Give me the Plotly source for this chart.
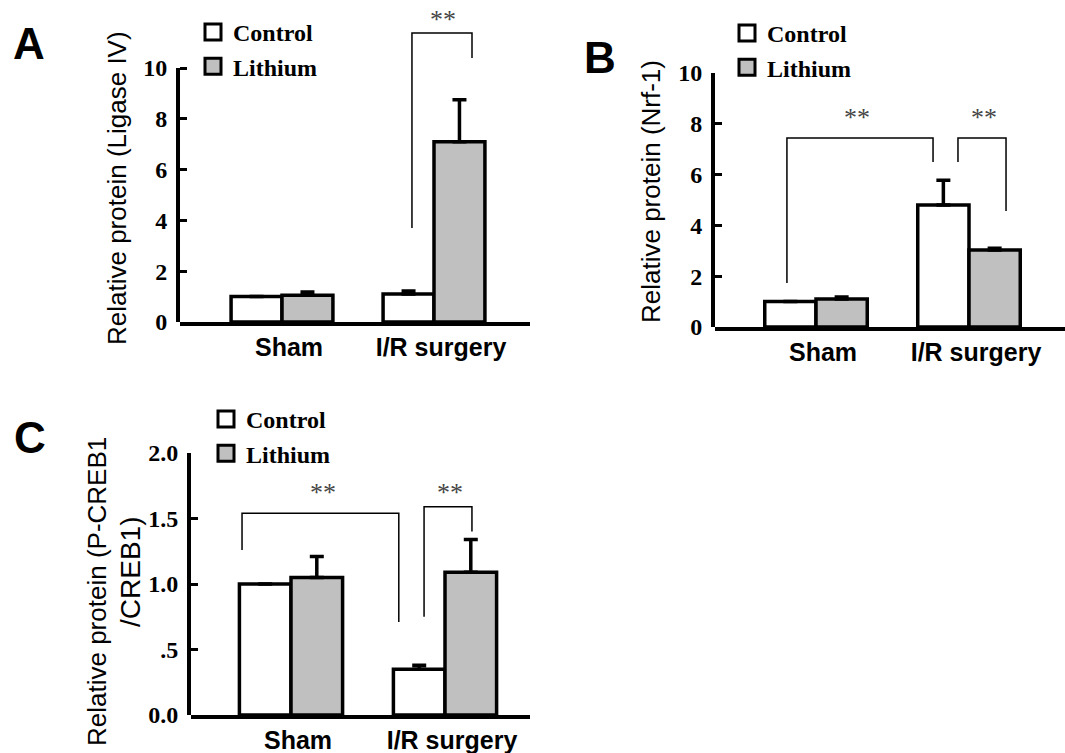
import plotly.graph_objects as go

# ---------------- data ----------------
categories = ["Sham", "I/R surgery"]
series_names = ["Control", "Lithium"]

a_control = [1.0, 1.1]
a_control_err = [None, 0.12]
a_lithium = [1.05, 7.1]
a_lithium_err = [0.13, 1.65]

b_control = [1.0, 4.8]
b_control_err = [None, 0.98]
b_lithium = [1.1, 3.03]
b_lithium_err = [0.08, 0.07]

c_control = [1.0, 0.35]
c_control_err = [None, 0.03]
c_lithium = [1.05, 1.09]
c_lithium_err = [0.16, 0.25]

a_ticks = [0, 2, 4, 6, 8, 10]
a_ticktext = ["0", "2", "4", "6", "8", "10"]
b_ticks = [0, 2, 4, 6, 8, 10]
b_ticktext = ["0", "2", "4", "6", "8", "10"]
c_ticks = [0, 0.5, 1.0, 1.5, 2.0]
c_ticktext = ["0.0", ".5", "1.0", "1.5", "2.0"]

# significance brackets: (x_left, x_right, y_left_end, y_top, y_right_end)
a_brackets = [(0.855, 1.25, 3.7, 11.38, 10.39)]
b_brackets = [(-0.19, 0.765, 1.73, 7.44, 6.5), (0.928, 1.242, 6.5, 7.44, 4.57)]
c_brackets = [(-0.318, 0.70, 1.26, 1.54, 0.71), (0.864, 1.175, 0.75, 1.59, 1.40)]
# star labels: (x, y)
a_stars = [(1.06, 11.9)]
b_stars = [(0.268, 8.23), (1.098, 8.23)]
c_stars = [(0.208, 1.70), (1.03, 1.70)]

y_titles = ["Relative protein (Ligase IV)", "Relative protein (Nrf-1)",
            "Relative protein (P-CREB1", "/CREB1)"]
panel_letters = ["A", "B", "C"]

# ---------------- layout helpers ----------------
W, H = 1065, 753


def fx(px):
    return px / W


def fy(py):
    return 1 - py / H


CONTROL_COLOR = "#ffffff"
LITHIUM_COLOR = "#c0c0c0"
SERIF = "Liberation Serif"
SANS = "Liberation Sans"

panels = [
    dict(ctrl=a_control, ctrl_err=a_control_err, lith=a_lithium, lith_err=a_lithium_err,
         ticks=a_ticks, ticktext=a_ticktext, brackets=a_brackets, stars=a_stars,
         ax_left=180, ax_right=530, y0=322, ppu=25.4, c0=282, cstep=152,
         tick_top=10, data_top=12.2, legend_xy=(193, 10)),
    dict(ctrl=b_control, ctrl_err=b_control_err, lith=b_lithium, lith_err=b_lithium_err,
         ticks=b_ticks, ticktext=b_ticktext, brackets=b_brackets, stars=b_stars,
         ax_left=715, ax_right=1065, y0=327, ppu=25.4, c0=816, cstep=153,
         tick_top=10, data_top=10, legend_xy=(727, 11)),
    dict(ctrl=c_control, ctrl_err=c_control_err, lith=c_lithium, lith_err=c_lithium_err,
         ticks=c_ticks, ticktext=c_ticktext, brackets=c_brackets, stars=c_stars,
         ax_left=191, ax_right=530, y0=715, ppu=131, c0=291, cstep=154,
         tick_top=2.0, data_top=2.0, legend_xy=(206, 397)),
]

fig = go.Figure()
layout = dict(
    width=W, height=H,
    margin=dict(l=0, r=0, t=0, b=0, pad=0, autoexpand=False),
    paper_bgcolor="white", plot_bgcolor="rgba(0,0,0,0)",
    barmode="group", bargap=0.33, bargroupgap=0,
    showlegend=True,
)
shapes = []
annotations = []
xpos = [0, 1]

for i, p in enumerate(panels):
    n = i + 1
    xa = "x" if n == 1 else f"x{n}"
    ya = "y" if n == 1 else f"y{n}"
    ta = f"y{n + 3}"
    leg = "legend" if n == 1 else f"legend{n}"

    # empty trace so the tick axis (0..top tick) is drawn
    fig.add_trace(go.Scatter(x=[None], y=[None], mode="markers", xaxis=xa, yaxis=ta,
                             showlegend=False, hoverinfo="skip"))
    for name, vals, errs, color in [
        (series_names[0], p["ctrl"], p["ctrl_err"], CONTROL_COLOR),
        (series_names[1], p["lith"], p["lith_err"], LITHIUM_COLOR),
    ]:
        fig.add_trace(go.Bar(
            x=xpos, y=vals, name=name, xaxis=xa, yaxis=ya, showlegend=False,
            marker=dict(color=color, line=dict(color="black", width=3.5)),
            error_y=dict(type="data", array=errs, symmetric=False,
                         arrayminus=[0 if e is not None else None for e in errs],
                         color="black", thickness=3.5, width=7),
        ))
        # legend proxy
        fig.add_trace(go.Scatter(
            x=[None], y=[None], mode="markers", name=name, xaxis=xa, yaxis=ya,
            legend=leg, showlegend=True,
            marker=dict(symbol="square", size=16, color=color,
                        line=dict(color="black", width=3)),
        ))

    r0 = -(p["c0"] - p["ax_left"]) / p["cstep"]
    r1 = r0 + (p["ax_right"] - p["ax_left"]) / p["cstep"]
    xdom = [fx(p["ax_left"]), min(1.0, fx(p["ax_right"]))]
    ydom_bars = [fy(p["y0"]), fy(p["y0"] - p["data_top"] * p["ppu"])]
    ydom_ticks = [fy(p["y0"]), fy(p["y0"] - p["tick_top"] * p["ppu"])]

    layout["xaxis" if n == 1 else f"xaxis{n}"] = dict(
        domain=xdom, range=[r0, r1], anchor=ya, type="linear", automargin=False,
        tickvals=xpos, ticktext=categories, ticks="",
        tickfont=dict(family=SANS, size=25, color="black", weight="bold"),
        ticklabelstandoff=0, ticklabelshift=7,
        showline=True, linewidth=4, linecolor="black",
        showgrid=False, zeroline=False, fixedrange=True,
    )
    # bar axis: carries the small inside tick marks only
    layout["yaxis" if n == 1 else f"yaxis{n}"] = dict(
        domain=ydom_bars, range=[0, p["data_top"]], anchor=xa, automargin=False,
        tickvals=p["ticks"], ticks="inside", ticklen=7, tickwidth=3,
        tickcolor="black", showticklabels=False, showline=False,
        showgrid=False, zeroline=False,
    )
    # labelled axis spanning 0 .. top tick
    layout[f"yaxis{n + 3}"] = dict(
        domain=ydom_ticks, range=[0, p["tick_top"]], anchor=xa, automargin=False,
        tickvals=p["ticks"], ticktext=p["ticktext"],
        ticks="inside", ticklen=7, tickwidth=3, tickcolor="black",
        tickfont=dict(family=SERIF, size=24, color="black", weight="bold"),
        ticklabelstandoff=4,
        showline=True, linewidth=4, linecolor="black",
        showgrid=False, zeroline=False,
    )
    lx, ly = p["legend_xy"]
    layout[leg] = dict(
        x=fx(lx), y=fy(ly), xanchor="left", yanchor="top",
        bgcolor="rgba(0,0,0,0)", borderwidth=0, itemsizing="trace",
        font=dict(family=SERIF, size=24, color="black", weight="bold"),
        tracegroupgap=0, itemclick=False,
    )

    for (xl, xr, yl, yt, yr) in p["brackets"]:
        shapes.append(dict(
            type="path", xref=xa, yref=ya, layer="above",
            path=f"M {xl},{yl} L {xl},{yt} L {xr},{yt} L {xr},{yr}",
            line=dict(color="black", width=1.5),
        ))
    for (sx, sy) in p["stars"]:
        annotations.append(dict(
            x=sx, y=sy, xref=xa, yref=ya, text="**", showarrow=False,
            xanchor="center", yanchor="middle",
            font=dict(family=SERIF, size=26, color="#444444"),
        ))

# axis titles
annotations += [
    dict(x=fx(117), y=fy(188), xref="paper", yref="paper", text=y_titles[0],
         textangle=-90, showarrow=False, xanchor="center", yanchor="middle",
         font=dict(family=SANS, size=26, color="black")),
    dict(x=fx(651), y=fy(192), xref="paper", yref="paper", text=y_titles[1],
         textangle=-90, showarrow=False, xanchor="center", yanchor="middle",
         font=dict(family=SANS, size=26, color="black")),
    dict(x=fx(97), y=fy(592), xref="paper", yref="paper", text=y_titles[2],
         textangle=-90, showarrow=False, xanchor="center", yanchor="middle",
         font=dict(family=SANS, size=26, color="black")),
    dict(x=fx(130), y=fy(572), xref="paper", yref="paper", text=y_titles[3],
         textangle=-90, showarrow=False, xanchor="center", yanchor="middle",
         font=dict(family=SANS, size=28, color="black")),
]
# panel letters
for letter, (px, py) in zip(panel_letters, [(29, 44), (600, 57), (30, 437)]):
    annotations.append(dict(
        x=fx(px), y=fy(py), xref="paper", yref="paper", text=letter,
        showarrow=False, xanchor="center", yanchor="middle",
        font=dict(family=SANS, size=44, color="black", weight="bold"),
    ))

layout["shapes"] = shapes
layout["annotations"] = annotations
fig.update_layout(**layout)
fig.write_html(
    "out.html", config={"displayModeBar": False},
    post_script=("document.body.style.margin='0px';"
                 "document.body.style.overflow='hidden';"
                 "document.documentElement.style.overflow='hidden';"),
)
